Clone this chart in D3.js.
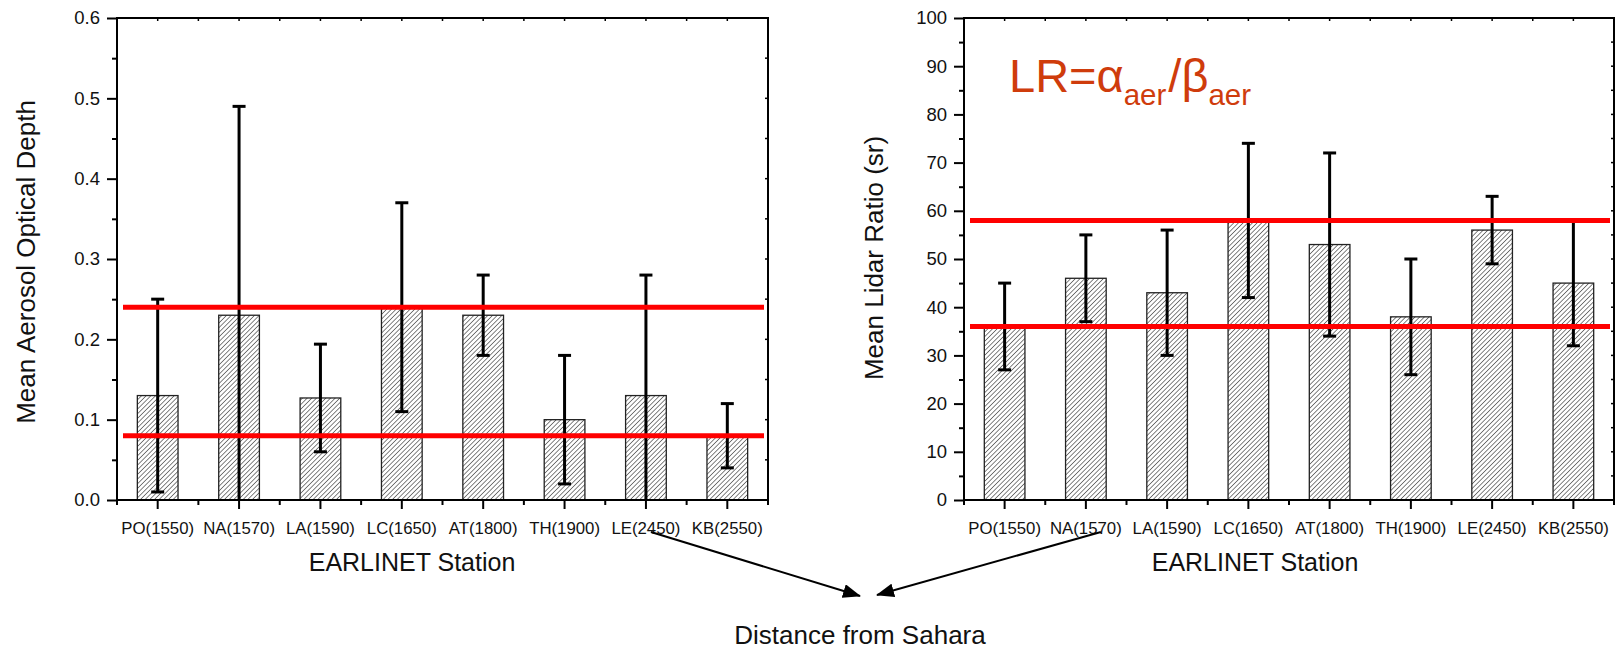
<!DOCTYPE html>
<html>
<head>
<meta charset="utf-8">
<script src="https://cdn.jsdelivr.net/npm/d3@7"></script>
<style>
  html, body { margin: 0; padding: 0; background: #fff; }
  svg { display: block; font-family: "Liberation Sans", Arial, sans-serif; }
</style>
</head>
<body>
<svg id="chart" width="1617" height="651"></svg>
<script>
// EARLINET stations, ordered by distance from the Sahara (km)
const stations = ["PO(1550)", "NA(1570)", "LA(1590)", "LC(1650)", "AT(1800)", "TH(1900)", "LE(2450)", "KB(2550)"];

// Mean aerosol optical depth and its standard deviation
const aodMean = [0.13, 0.23, 0.127, 0.24, 0.23, 0.10, 0.13, 0.08];
const aodErr  = [0.12, 0.26, 0.067, 0.13, 0.05, 0.08, 0.15, 0.04];

// Mean lidar ratio (sr) and its standard deviation
const lrMean = [36, 46, 43, 58, 53, 38, 56, 45];
const lrErr  = [9, 9, 13, 16, 19, 12, 7, 13];

// Reference band limits drawn as red lines
const aodBand = [0.08, 0.24];
const lrBand  = [36, 58];

// Axis tick values
const aodTicks = [0, 0.1, 0.2, 0.3, 0.4, 0.5, 0.6];
const lrTicks  = [0, 10, 20, 30, 40, 50, 60, 70, 80, 90, 100];

const svg = d3.select("#chart");
const FONT = '"Liberation Sans", Arial, sans-serif';

// Diagonal hatch used to fill the bars
const defs = svg.append("defs");
defs.append("pattern")
  .attr("id", "hatch")
  .attr("patternUnits", "userSpaceOnUse")
  .attr("width", 3.3).attr("height", 3.3)
  .attr("patternTransform", "rotate(45)")
  .append("line")
  .attr("x1", 0).attr("y1", 0).attr("x2", 0).attr("y2", 3.3)
  .attr("stroke", "#111").attr("stroke-width", 1.05);

defs.append("marker")
  .attr("id", "arrowHead")
  .attr("markerUnits", "userSpaceOnUse")
  .attr("viewBox", "0 0 18 14")
  .attr("markerWidth", 18).attr("markerHeight", 14)
  .attr("refX", 17).attr("refY", 7)
  .attr("orient", "auto")
  .append("path")
  .attr("d", "M0,0 L18,7 L0,14 Z")
  .attr("fill", "#000");

function panel(opts) {
  const { id, left, right, top, bottom, means, errs, band, ticks, fmt, title, titleX, titleY, xTitleX } = opts;

  const x = d3.scaleBand().domain(stations).range([left, right])
    .paddingInner(0.5).paddingOuter(0.25);
  const y = d3.scaleLinear().domain([ticks[0], ticks[ticks.length - 1]]).range([bottom, top]);
  const step = x.step();
  const half = x.bandwidth() / 2;
  const minorY = ticks.slice(1).map((t, i) => (t + ticks[i]) / 2);
  const centers = stations.map(s => x(s) + half);
  const bounds = stations.map(s => x(s) + half - step / 2).concat([right]);

  const g = svg.append("g").attr("id", id);

  defs.append("clipPath").attr("id", id + "-clip")
    .append("rect").attr("x", left).attr("y", top)
    .attr("width", right - left).attr("height", bottom - top);

  // bars
  g.append("g").selectAll("rect").data(stations).join("rect")
    .attr("x", d => x(d))
    .attr("y", (d, i) => y(means[i]))
    .attr("width", x.bandwidth())
    .attr("height", (d, i) => y(0) - y(means[i]))
    .attr("fill", "url(#hatch)")
    .attr("stroke", "#222").attr("stroke-width", 1.3);

  // error bars
  const eb = g.append("g").attr("clip-path", `url(#${id}-clip)`)
    .attr("stroke", "#000").attr("stroke-width", 3).attr("fill", "none");
  stations.forEach((s, i) => {
    const cx = x(s) + half;
    const hi = y(means[i] + errs[i]);
    const lo = y(means[i] - errs[i]);
    eb.append("line").attr("x1", cx).attr("x2", cx).attr("y1", hi).attr("y2", lo);
    eb.append("line").attr("x1", cx - 6.5).attr("x2", cx + 6.5).attr("y1", hi).attr("y2", hi);
    eb.append("line").attr("x1", cx - 6.5).attr("x2", cx + 6.5).attr("y1", lo).attr("y2", lo);
  });

  // bottom axis: major ticks at stations, minor ticks between them
  const xAxis = g.append("g").attr("transform", `translate(0,${bottom})`)
    .call(d3.axisBottom(x).tickSize(9).tickPadding(13).tickSizeOuter(0));
  xAxis.select(".domain").remove();
  xAxis.selectAll(".tick line").attr("stroke-width", 2);
  xAxis.selectAll(".tick text").attr("font-size", 16.8).attr("font-family", FONT).attr("fill", "#111");
  g.append("g").selectAll("line").data(bounds).join("line")
    .attr("x1", d => d).attr("x2", d => d)
    .attr("y1", bottom).attr("y2", bottom + 5)
    .attr("stroke", "#000").attr("stroke-width", 2);

  // top axis: small inward ticks
  g.append("g").selectAll("line").data(centers.concat(bounds)).join("line")
    .attr("x1", d => d).attr("x2", d => d)
    .attr("y1", top).attr("y2", top + 3)
    .attr("stroke", "#000").attr("stroke-width", 1.5);

  // left axis
  const yAxis = g.append("g").attr("transform", `translate(${left},0)`)
    .call(d3.axisLeft(y).tickValues(ticks).tickSize(10).tickPadding(7).tickFormat(fmt));
  yAxis.select(".domain").remove();
  yAxis.selectAll(".tick line").attr("stroke-width", 2);
  yAxis.selectAll(".tick text").attr("font-size", 18.5).attr("font-family", FONT).attr("fill", "#111");
  const yMinor = g.append("g").attr("transform", `translate(${left},0)`)
    .call(d3.axisLeft(y).tickValues(minorY).tickSize(5).tickFormat(""));
  yMinor.select(".domain").remove();
  yMinor.selectAll(".tick line").attr("stroke-width", 2);

  // right axis: small inward ticks
  g.append("g").selectAll("line").data(ticks.concat(minorY)).join("line")
    .attr("x1", right - 3).attr("x2", right)
    .attr("y1", d => y(d)).attr("y2", d => y(d))
    .attr("stroke", "#000").attr("stroke-width", 1.5);

  // frame
  g.append("rect").attr("x", left).attr("y", top)
    .attr("width", right - left).attr("height", bottom - top)
    .attr("fill", "none").attr("stroke", "#000").attr("stroke-width", 2);

  // reference band lines
  g.append("g").selectAll("line").data(band).join("line")
    .attr("x1", left + 6).attr("x2", right - 4)
    .attr("y1", d => y(d)).attr("y2", d => y(d))
    .attr("stroke", "#ff0000").attr("stroke-width", 5);

  // axis titles
  g.append("text")
    .attr("transform", `translate(${titleX},${titleY}) rotate(-90)`)
    .attr("text-anchor", "middle")
    .attr("font-size", 26).attr("font-family", FONT).attr("fill", "#111")
    .text(title);
  g.append("text")
    .attr("x", xTitleX).attr("y", 571)
    .attr("text-anchor", "middle")
    .attr("font-size", 25).attr("font-family", FONT).attr("fill", "#111")
    .text("EARLINET Station");

  return { x, y, half };
}

const pA = panel({
  id: "aod", left: 117, right: 768, top: 18, bottom: 500,
  means: aodMean, errs: aodErr, band: aodBand, ticks: aodTicks,
  fmt: d3.format(".1f"), title: "Mean Aerosol Optical Depth",
  titleX: 35, titleY: 262, xTitleX: 412
});

const pB = panel({
  id: "lr", left: 964, right: 1614, top: 18, bottom: 500,
  means: lrMean, errs: lrErr, band: lrBand, ticks: lrTicks,
  fmt: d3.format("d"), title: "Mean Lidar Ratio (sr)",
  titleX: 883, titleY: 258, xTitleX: 1255
});

// lidar ratio definition
const lr = svg.append("text")
  .attr("x", 1009).attr("y", 92)
  .attr("font-family", FONT).attr("font-size", 47).attr("fill", "#cf3c0c");
lr.append("tspan").text("LR=α");
lr.append("tspan").attr("font-size", 29.5).attr("dy", 13).text("aer");
lr.append("tspan").attr("dy", -13).attr("dx", 2).text("/β");
lr.append("tspan").attr("font-size", 29.5).attr("dy", 13).text("aer");

// arrows pointing to the common caption
const tipY = 596;
const a1x = pA.x("LE(2450)") + pA.half + 5;
const a2x = pB.x("NA(1570)") + pB.half + 15;
svg.append("line")
  .attr("x1", a1x).attr("y1", 532).attr("x2", 860).attr("y2", tipY)
  .attr("stroke", "#000").attr("stroke-width", 2).attr("marker-end", "url(#arrowHead)");
svg.append("line")
  .attr("x1", a2x).attr("y1", 532).attr("x2", 877).attr("y2", tipY - 1)
  .attr("stroke", "#000").attr("stroke-width", 2).attr("marker-end", "url(#arrowHead)");

svg.append("text")
  .attr("x", 860).attr("y", 644)
  .attr("text-anchor", "middle")
  .attr("font-size", 26).attr("font-family", FONT).attr("fill", "#111")
  .text("Distance from Sahara");
</script>
</body>
</html>
